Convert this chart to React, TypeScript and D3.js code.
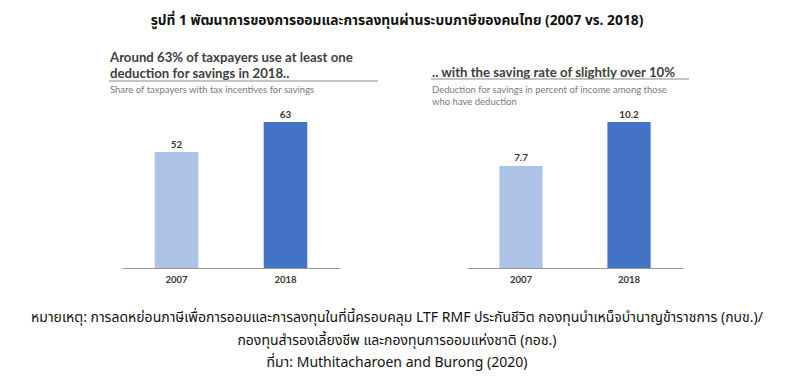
import React, { useEffect, useRef } from 'react';
import * as d3 from 'd3';

const years = ['2007', '2018'];
const shareValues = [52, 63];
const rateValues = [7.7, 10.2];
const barColors = ['#aec3e8', '#4472c4'];

const mainTitle = 'รูปที่ 1 พัฒนาการของการออมและการลงทุนผ่านระบบภาษีของคนไทย (2007 vs. 2018)';
const leftTitle = ['Around 63% of taxpayers use at least one', 'deduction for savings in 2018..'];
const leftSubtitle = ['Share of taxpayers with tax incentives for savings'];
const rightTitle = ['.. with the saving rate of slightly over 10%'];
const rightSubtitle = ['Deduction for savings in percent of income among those', 'who have deduction'];
const notes = [
  'หมายเหตุ: การลดหย่อนภาษีเพื่อการออมและการลงทุนในที่นี้ครอบคลุม LTF RMF ประกันชีวิต กองทุนบำเหน็จบำนาญข้าราชการ (กบข.)/',
  'กองทุนสำรองเลี้ยงชีพ และกองทุนการออมแห่งชาติ (กอช.)',
  'ที่มา: Muthitacharoen and Burong (2020)',
];

const W = 800;
const H = 387;
const latin = 'Lato, "Open Sans", sans-serif';
const thai = '"Noto Sans Thai", "Noto Sans", "DejaVu Sans", sans-serif';

interface Panel {
  values: number[];
  fmt: (v: number) => string;
  yMin: number;
  x0: number;
  x1: number;
  titleX: number;
  titleY: number;
  title: string[];
  rule: [number, number, number];
  subtitle: string[];
  subY: number;
}

const App: React.FC = () => {
  const svgRef = useRef<SVGSVGElement>(null);

  useEffect(() => {
    const svg = d3.select(svgRef.current);
    svg.selectAll('*').remove();

    svg.append('text')
      .attr('x', 397)
      .attr('y', 25)
      .attr('text-anchor', 'middle')
      .attr('font-family', thai)
      .attr('font-weight', 'bold')
      .attr('font-size', 13.8)
      .attr('fill', '#111')
      .text(mainTitle);

    const baseY = 268;
    const topY = 122;

    const panels: Panel[] = [
      {
        values: shareValues, fmt: d3.format('d'), yMin: 9.5,
        x0: 122, x1: 340, titleX: 110, titleY: 62, title: leftTitle,
        rule: [109, 378, 81], subtitle: leftSubtitle, subY: 93,
      },
      {
        values: rateValues, fmt: d3.format('.1f'), yMin: 1.9,
        x0: 467, x1: 683, titleX: 432, titleY: 76.5, title: rightTitle,
        rule: [431, 689, 79], subtitle: rightSubtitle, subY: 93,
      },
    ];

    panels.forEach((p) => {
      const g = svg.append('g');

      g.selectAll('text.title')
        .data(p.title)
        .join('text')
        .attr('class', 'title')
        .attr('x', p.titleX)
        .attr('y', (_, i) => p.titleY + i * 15.5)
        .attr('font-family', latin)
        .attr('font-weight', 'bold')
        .attr('font-size', 13.2)
        .attr('fill', '#404040')
        .text(d => d);

      g.append('line')
        .attr('x1', p.rule[0])
        .attr('x2', p.rule[1])
        .attr('y1', p.rule[2])
        .attr('y2', p.rule[2])
        .attr('stroke', '#8c8c8c')
        .attr('stroke-width', 1.2);

      g.selectAll('text.sub')
        .data(p.subtitle)
        .join('text')
        .attr('class', 'sub')
        .attr('x', p.titleX)
        .attr('y', (_, i) => p.subY + i * 12)
        .attr('font-family', latin)
        .attr('font-size', 9.5)
        .attr('fill', '#7a7a7a')
        .text(d => d);

      const x = d3.scaleBand<string>()
        .domain(years)
        .range([p.x0, p.x1])
        .paddingInner(0.6)
        .paddingOuter(0.3);

      const y = d3.scaleLinear()
        .domain([p.yMin, d3.max(p.values) ?? 0])
        .range([baseY, topY]);

      g.selectAll('rect')
        .data(p.values)
        .join('rect')
        .attr('x', (_, i) => x(years[i]) ?? 0)
        .attr('y', d => y(d))
        .attr('width', x.bandwidth())
        .attr('height', d => baseY - y(d))
        .attr('fill', (_, i) => barColors[i]);

      g.selectAll('text.val')
        .data(p.values)
        .join('text')
        .attr('class', 'val')
        .attr('x', (_, i) => (x(years[i]) ?? 0) + x.bandwidth() / 2)
        .attr('y', d => y(d) - 4.5)
        .attr('text-anchor', 'middle')
        .attr('font-family', latin)
        .attr('font-weight', 'bold')
        .attr('font-size', 9.8)
        .attr('fill', '#333')
        .text(d => p.fmt(d));

      const axis = g.append('g')
        .attr('transform', `translate(0,${baseY})`)
        .call(d3.axisBottom(x).tickSize(0).tickPadding(8));
      axis.select('.domain').attr('stroke', '#9a9a9a').attr('stroke-width', 1.2);
      axis.selectAll('text')
        .attr('font-family', latin)
        .attr('font-weight', 'bold')
        .attr('font-size', 9.5)
        .attr('fill', '#333');
    });

    svg.append('g')
      .selectAll('text')
      .data(notes)
      .join('text')
      .attr('x', 397)
      .attr('y', (_, i) => 322 + i * 22.5)
      .attr('text-anchor', 'middle')
      .attr('font-family', thai)
      .attr('font-size', 14)
      .attr('fill', '#111')
      .text(d => d);
  }, []);

  return (
    <svg
      ref={svgRef}
      width={W}
      height={H}
      style={{ position: 'absolute', left: 0, top: 0, background: '#fff' }}
    />
  );
};

export default App;
